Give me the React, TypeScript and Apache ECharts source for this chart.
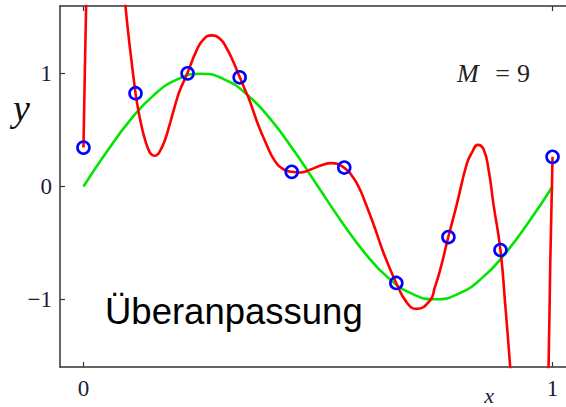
import React, { useEffect, useRef } from "react";
import * as echarts from "echarts";

// Observed data points (blue circles)
const pointX = [0, 0.111, 0.222, 0.333, 0.444, 0.556, 0.667, 0.778, 0.889, 1.0];
const pointY = [0.345, 0.827, 1.003, 0.968, 0.13, 0.168, -0.855, -0.448, -0.563, 0.263];

// Green curve (true function)
const greenX = [0, 0.05, 0.1, 0.15, 0.2, 0.25, 0.3, 0.35, 0.4, 0.45, 0.5, 0.55, 0.6, 0.65, 0.7, 0.75, 0.8, 0.85, 0.9, 0.95, 1.0];
const greenY = [0, 0.31, 0.59, 0.81, 0.95, 1.0, 0.95, 0.81, 0.59, 0.31, 0, -0.31, -0.59, -0.81, -0.95, -1.0, -0.95, -0.81, -0.59, -0.31, 0];

// Red curve (M = 9 fit), three visible pieces
const redAX = [0, 0.002, 0.004, 0.0057, 0.007];
const redAY = [0.345, 0.8, 1.25, 1.6, 1.9];

const redBX = [0.086, 0.0897, 0.0982, 0.111, 0.116, 0.123, 0.132, 0.141, 0.146, 0.1517, 0.157, 0.162, 0.173, 0.184, 0.194, 0.205, 0.2215, 0.2405, 0.255, 0.2727, 0.291, 0.3047, 0.319, 0.3333, 0.344, 0.3545, 0.372, 0.39, 0.408, 0.4257, 0.444, 0.4613, 0.4827, 0.504, 0.529, 0.5555, 0.575, 0.589, 0.5965, 0.618, 0.639, 0.6667, 0.689, 0.71, 0.739, 0.749, 0.76, 0.7778, 0.796, 0.817, 0.828, 0.8406, 0.853, 0.864, 0.874, 0.8889, 0.899, 0.9097, 0.915];
const redBY = [1.75, 1.593, 1.26, 0.827, 0.7, 0.552, 0.404, 0.305, 0.282, 0.272, 0.281, 0.305, 0.404, 0.552, 0.7, 0.847, 1.003, 1.2, 1.3, 1.34, 1.31, 1.23, 1.11, 0.968, 0.862, 0.758, 0.552, 0.375, 0.227, 0.154, 0.13, 0.124, 0.148, 0.183, 0.207, 0.168, 0.08, -0.023, -0.097, -0.33, -0.58, -0.855, -1.027, -1.085, -1.01, -0.894, -0.746, -0.448, -0.156, 0.198, 0.3, 0.369, 0.33, 0.139, -0.156, -0.563, -1.04, -1.6, -1.9];

const redCX = [0.989, 0.9915, 0.9951, 1.0];
const redCY = [-1.9, -1.6, -0.687, 0.263];

const xTicks = [0, 1];
const yTicks = [-1, 0, 1];

const zip = (xs: number[], ys: number[]) => xs.map((x, i) => [x, ys[i]]);

const serif = "Liberation Serif";
const labelColor = "#1c1c3a";
const fmt = (v: number) => (v < 0 ? "\u2212" + Math.abs(v) : String(v));

export default function App() {
  const ref = useRef<HTMLDivElement>(null);
  useEffect(() => {
    if (!ref.current) return;
    const chart = echarts.init(ref.current, undefined, { renderer: "svg" });
    const axisLine = { show: true, onZero: false, lineStyle: { color: "#333", width: 1.5 } };
    const tick = (vals: number[]) => ({ show: true, inside: true, length: 5, customValues: vals, lineStyle: { color: "#333", width: 1.2 } });
    const redLine = (data: number[][]) => ({
      type: "line",
      data,
      showSymbol: false,
      smooth: 0.5,
      clip: true,
      lineStyle: { color: "#ff0000", width: 2.6 },
      z: 3,
    });
    const txt = (text: string, x: number, y: number, size: number, italic: boolean, align: string, family = serif, fill = "#222") => ({
      type: "text",
      x,
      y,
      style: { text, fontFamily: family, fontSize: size, fontStyle: italic ? "italic" : "normal", fill, textVerticalAlign: "middle", textAlign: align },
    });
    chart.setOption({
      animation: false,
      backgroundColor: "#ffffff",
      grid: { left: 60, top: 6, width: 516, height: 361, outerBoundsMode: "none", containLabel: false },
      xAxis: [
        {
          type: "value",
          min: -0.05,
          max: 1.05,
          position: "bottom",
          axisLine,
          splitLine: { show: false },
          axisTick: tick(xTicks),
          axisLabel: { show: true, customValues: xTicks, formatter: fmt, fontFamily: serif, fontSize: 23, color: labelColor, margin: 10 },
        },
        {
          type: "value",
          min: -0.05,
          max: 1.05,
          position: "top",
          axisLine,
          splitLine: { show: false },
          axisTick: tick(xTicks),
          axisLabel: { show: false },
        },
      ],
      yAxis: [
        {
          type: "value",
          min: -1.6,
          max: 1.6,
          position: "left",
          axisLine,
          splitLine: { show: false },
          axisTick: tick(yTicks),
          axisLabel: { show: true, customValues: yTicks, formatter: fmt, fontFamily: serif, fontSize: 23, color: labelColor, margin: 8 },
        },
        {
          type: "value",
          min: -1.6,
          max: 1.6,
          position: "right",
          axisLine,
          splitLine: { show: false },
          axisTick: tick(yTicks),
          axisLabel: { show: false },
        },
      ],
      series: [
        {
          type: "line",
          data: zip(greenX, greenY),
          showSymbol: false,
          smooth: true,
          lineStyle: { color: "#00e600", width: 2.6 },
          z: 2,
        },
        redLine(zip(redAX, redAY)),
        redLine(zip(redBX, redBY)),
        redLine(zip(redCX, redCY)),
        {
          type: "scatter",
          data: zip(pointX, pointY),
          symbol: "circle",
          symbolSize: 12,
          itemStyle: { color: "rgba(0,0,0,0)", borderColor: "#0000ff", borderWidth: 2.6, opacity: 1 },
          z: 4,
        },
      ],
      graphic: [
        txt("y", 13, 108, 38, true, "left", serif, "#111"),
        txt("x", 489, 395, 22, true, "center", serif, labelColor),
        txt("M", 457, 73, 26, true, "left"),
        txt("=", 502.5, 73, 26, false, "center"),
        txt("9", 523.5, 73, 26, false, "center"),
        txt("Überanpassung", 105, 311, 36.5, false, "left", "Liberation Sans", "#000"),
      ],
    });
    return () => chart.dispose();
  }, []);
  return <div ref={ref} style={{ position: "absolute", left: 0, top: 0, width: 566, height: 407 }} />;
}
